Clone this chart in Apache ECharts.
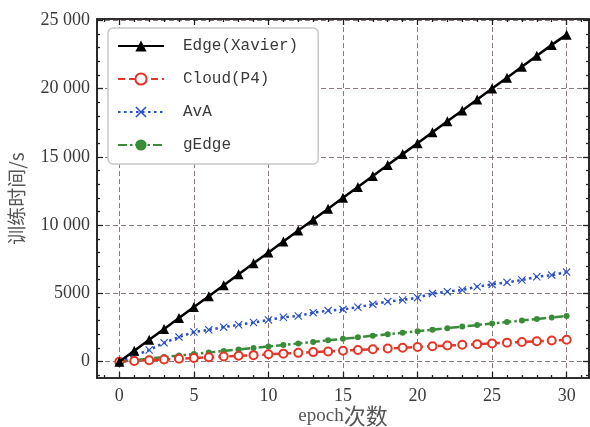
<!DOCTYPE html>
<html><head><meta charset="utf-8">
<script src="https://cdn.jsdelivr.net/npm/echarts@6/dist/echarts.min.js"></script>
<style>html,body{margin:0;padding:0;background:#fff}#c{width:590px;height:427px}</style>
</head><body><div id="c"></div>
<script>
const epochs = [0,1,2,3,4,5,6,7,8,9,10,11,12,13,14,15,16,17,18,19,20,21,22,23,24,25,26,27,28,29,30];
const edgeXavier = [0,800,1600,2400,3200,4000,4800,5600,6400,7200,8000,8800,9600,10400,11200,12000,12800,13600,14400,15200,16000,16800,17600,18400,19200,20000,20800,21600,22400,23200,23950];
const cloudP4 = [0,55,110,160,215,270,320,375,430,480,540,590,645,700,750,805,860,910,965,1020,1075,1125,1180,1235,1285,1340,1395,1445,1500,1550,1600];
const ava = [0,450,850,1380,1800,2170,2330,2530,2700,2870,3060,3250,3350,3590,3740,3830,3990,4200,4400,4520,4690,5000,5130,5250,5490,5660,5810,5980,6220,6340,6560];
const gEdge = [0,110,225,335,445,560,670,780,895,1005,1115,1230,1340,1450,1565,1675,1785,1900,2010,2120,2235,2345,2455,2570,2680,2790,2905,3015,3125,3240,3350];
const seriesNames = ['Edge(Xavier)','Cloud(P4)','AvA','gEdge'];
const xTicks = [0,5,10,15,20,25,30];
const xMinorTicks = [-1,1,2,3,4,6,7,8,9,11,12,13,14,16,17,18,19,21,22,23,24,26,27,28,29,31];
const yTicks = [0,5000,10000,15000,20000,25000];
const yTickLabels = ['0','5000','10 000','15 000','20 000','25 000'];
const yMinorTicks = [-1000,1000,2000,3000,4000,6000,7000,8000,9000,11000,12000,13000,14000,16000,17000,18000,19000,21000,22000,23000,24000];
const xTitleLatin = 'epoch';
const xTitleCJK = '次数';
const yTitle = '训练时间/s';

const XMIN=-1.5, XMAX=31.5, YMIN=-1195, YMAX=25095;
const ink = '#222';
const labelFont = {fontFamily:'Liberation Serif', fontSize:18, color:'#3a3a3a'};
function axis(dim, pos, ticks, len, labels, split) {
  const a = {
    type:'value', position:pos, gridIndex:0,
    min: dim==='x'?XMIN:YMIN, max: dim==='x'?XMAX:YMAX,
    axisLine:{show:true, onZero:false, lineStyle:{color:ink, width:1.6}},
    axisTick:{show:true, inside:true, length:len, customValues:ticks, lineStyle:{color:ink, width:1.3}},
    minorTick:{show:false},
    splitLine: split ? {show:true, lineStyle:{type:[5,3], color:'#8c7b7b', width:1}} : {show:false},
    axisLabel: {show:false}
  };
  if (labels) {
    a.axisLabel = Object.assign({show:true, customValues:ticks, margin: dim==='x'?9:7,
      formatter: v => dim==='x' ? String(v) : yTickLabels[yTicks.indexOf(v)]}, labelFont);
  }
  return a;
}
const xMain = axis('x','bottom',xTicks,6,true,true);
xMain.name = '{a|' + xTitleLatin + '}{b|' + xTitleCJK + '}'; xMain.nameLocation='middle'; xMain.nameGap=27;
xMain.nameMoveOverlap = false;
xMain.nameTextStyle = {color:'#555', rich:{
  a:{fontFamily:'Liberation Serif', fontSize:19, color:'#555', lineHeight:22},
  b:{fontFamily:'Noto Sans CJK SC', fontSize:22, color:'#555', lineHeight:22}}};
const yMain = axis('y','left',yTicks,6,true,true);
yMain.name = yTitle; yMain.nameLocation='middle'; yMain.nameGap=71;
yMain.nameMoveOverlap = false;
yMain.nameTextStyle = {fontFamily:'Noto Sans CJK SC', fontSize:19, color:'#555'};

const pts = arr => epochs.map((e,i)=>[e, arr[i]]);
const xMark = 'path://M1,0 L5,4 L9,0 L10,1 L6,5 L10,9 L9,10 L5,6 L1,10 L0,9 L4,5 L0,1 Z';

const option = {
  animation:false,
  backgroundColor:'#fff',
  grid:{left:97, right:1, top:19, bottom:49, containLabel:false, outerBoundsMode:'none'},
  xAxis:[xMain, axis('x','bottom',xMinorTicks,3,false,false), axis('x','top',xTicks,6,false,false), axis('x','top',xMinorTicks,3,false,false)],
  yAxis:[yMain, axis('y','left',yMinorTicks,3,false,false), axis('y','right',yTicks,6,false,false), axis('y','right',yMinorTicks,3,false,false)],
  legend:{orient:'vertical', left:108, top:28, itemWidth:46, itemHeight:14, itemGap:17,
    padding:[10,20,11,9], backgroundColor:'#fff', borderColor:'#c8c8c8', borderWidth:1.5, borderRadius:5,
    textStyle:{fontFamily:'Liberation Mono', fontSize:16, color:'#3a3a3a', padding:[0,0,0,14]},
    data: seriesNames},
  series:[
    {name:seriesNames[0], type:'line', data:pts(edgeXavier), symbol:'triangle', symbolSize:10,
      lineStyle:{color:'#000', width:2.5}, itemStyle:{color:'#000'}, z:5},
    {name:seriesNames[1], type:'line', data:pts(cloudP4), symbol:'emptyCircle', symbolSize:8,
      lineStyle:{color:'#e53528', width:2.5, type:[7,4]}, itemStyle:{color:'#e53528', borderWidth:2.2}, z:4},
    {name:seriesNames[2], type:'line', data:pts(ava), symbol:xMark, symbolSize:8,
      lineStyle:{color:'#2b4fc4', width:2.5, type:[2.5,3.5]}, itemStyle:{color:'#2b4fc4'}, z:3},
    {name:seriesNames[3], type:'line', data:pts(gEdge), symbol:'circle', symbolSize:6,
      lineStyle:{color:'#3a8c3a', width:2.5, type:[9,3,2.5,3]}, itemStyle:{color:'#3a8c3a'}, z:2}
  ]
};
echarts.init(document.getElementById('c'), null, {renderer:'canvas'}).setOption(option);
</script></body></html>
